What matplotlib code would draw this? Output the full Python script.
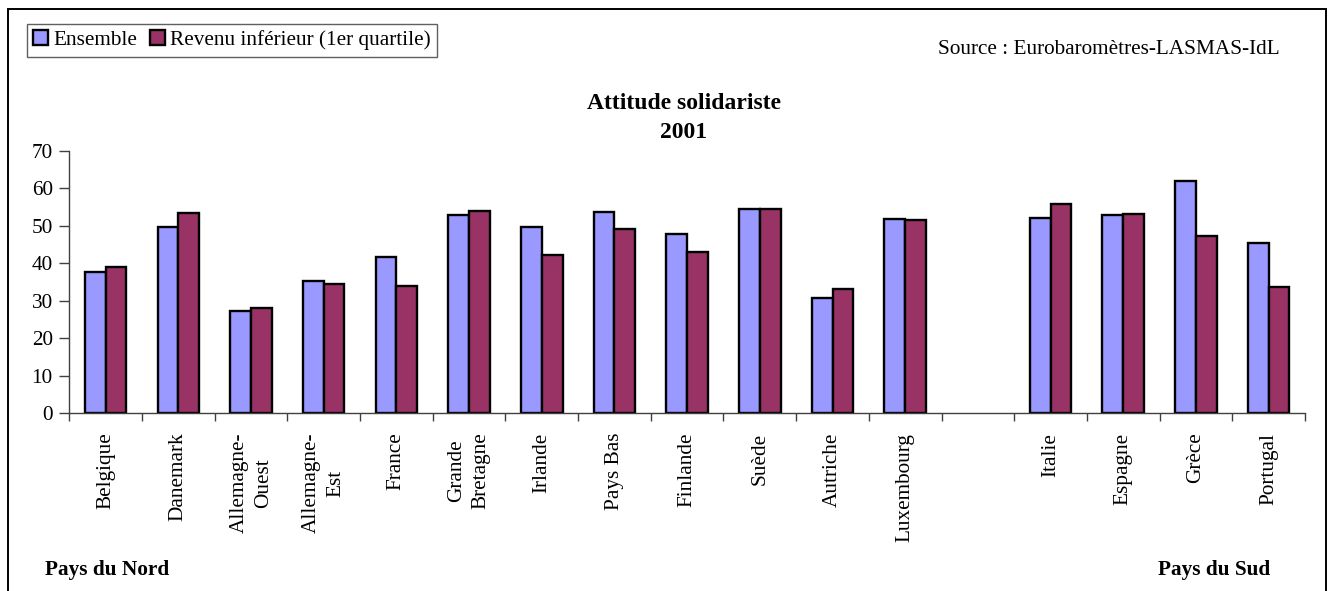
import numpy as np
import matplotlib
matplotlib.use('Agg')
import matplotlib.pyplot as plt
from matplotlib.patches import Patch, Rectangle

# slot order on the x axis; the empty slot separates north and south
countries = ['Belgique', 'Danemark', 'Allemagne-\nOuest', 'Allemagne-\nEst', 'France',
             'Grande\nBretagne', 'Irlande', 'Pays Bas', 'Finlande', 'Suède', 'Autriche',
             'Luxembourg', '', 'Italie', 'Espagne', 'Grèce', 'Portugal']
ensemble = [37.8, 49.7, 27.4, 35.3, 41.8, 52.9, 49.6, 53.6, 47.9, 54.5, 30.9,
            51.9, np.nan, 52.1, 52.9, 62.0, 45.4]
revenu_inf = [39.0, 53.4, 28.2, 34.5, 34.0, 54.1, 42.2, 49.3, 43.1, 54.5, 33.1,
              51.6, np.nan, 55.9, 53.2, 47.3, 33.6]
yticks = [0, 10, 20, 30, 40, 50, 60, 70]

C_ENS = '#9999FF'
C_REV = '#993366'
W, H = 1330, 591
FS = 15.3

plt.rcParams['font.family'] = ['Liberation Serif', 'DejaVu Serif']

fig = plt.figure(figsize=(W / 100, H / 100), dpi=100)
ax = fig.add_axes([69.3 / W, 1 - 413.3 / H, (1305 - 69.3) / W, (413.3 - 151) / H])

x = np.arange(len(countries))
ens = np.array(ensemble, dtype=float)
rev = np.array(revenu_inf, dtype=float)
ok = ~np.isnan(ens)
bw = 0.286
ax.bar(x[ok] - bw / 2, ens[ok], bw, color=C_ENS, edgecolor='black', linewidth=1.7, zorder=2)
ax.bar(x[ok] + bw / 2, rev[ok], bw, color=C_REV, edgecolor='black', linewidth=1.7, zorder=2)

ax.set_xlim(-0.5, len(countries) - 0.5)
ax.set_ylim(0, 70)
ax.set_yticks(yticks)
ax.set_yticklabels([str(v) for v in yticks], fontsize=FS)

# tick marks sit between categories, labels at centres
ax.set_xticks(np.arange(len(countries) + 1) - 0.5)
ax.set_xticklabels([])
ax.set_xticks(x, minor=True)
ax.set_xticklabels(countries, minor=True, rotation=90, fontsize=FS,
                   va='top', ha='center', multialignment='center', linespacing=1.38)
ax.tick_params(axis='x', which='minor', length=0, pad=14)
ax.tick_params(axis='x', which='major', length=6, width=1, color='#404040', direction='out')
ax.tick_params(axis='y', length=7, width=1, color='#404040', direction='out', pad=5)

for s in ['top', 'right']:
    ax.spines[s].set_visible(False)
for s in ['left', 'bottom']:
    ax.spines[s].set_color('#404040')
    ax.spines[s].set_linewidth(1)

fig.text(684 / W, 1 - 109 / H, 'Attitude solidariste', ha='center', va='baseline',
         fontsize=17, fontweight='bold')
fig.text(684 / W, 1 - 138 / H, '2001', ha='center', va='baseline',
         fontsize=17, fontweight='bold')

fig.text(1280 / W, 1 - 54 / H, 'Source : Eurobaromètres-LASMAS-IdL', ha='right',
         va='baseline', fontsize=FS)

fig.text(45 / W, 1 - 575 / H, 'Pays du Nord', ha='left', va='baseline',
         fontsize=FS, fontweight='bold')
fig.text(1270 / W, 1 - 575 / H, 'Pays du Sud', ha='right', va='baseline',
         fontsize=FS, fontweight='bold')

handles = [Patch(facecolor=C_ENS, edgecolor='black', linewidth=1.7, label='Ensemble'),
           Patch(facecolor=C_REV, edgecolor='black', linewidth=1.7, label='Revenu inférieur (1er quartile)')]
leg = fig.legend(handles=handles, loc='upper left', bbox_to_anchor=(27 / W, 1 - 24 / H),
                 borderaxespad=0, ncol=2, fontsize=FS, frameon=True, fancybox=False,
                 edgecolor='#606060', framealpha=1, handlelength=0.7, handleheight=0.7,
                 handletextpad=0.25, columnspacing=0.6, borderpad=0.3)
leg.get_frame().set_linewidth(1)

# outer chart frame (bottom edge falls outside the picture)
fig.add_artist(Rectangle((8 / W, -0.1), (1326 - 8) / W, 1.1 - 9 / H, transform=fig.transFigure,
                         fill=False, edgecolor='black', linewidth=1.4))

fig.savefig('out.png', dpi=100, facecolor='white')
